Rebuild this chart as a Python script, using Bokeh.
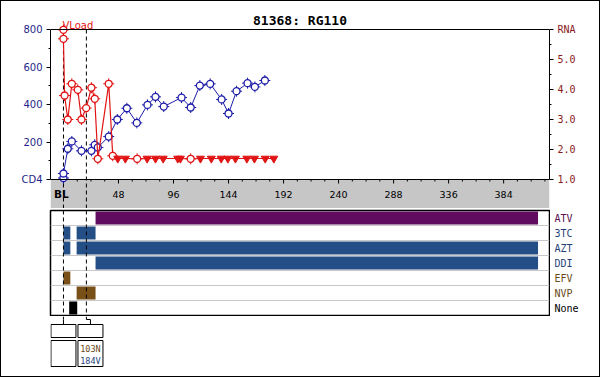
import math
from bokeh.plotting import figure
from bokeh.models import (Range1d, LinearAxis, FixedTicker, Span, Grid, ColumnDataSource,
                          BoxAnnotation)
from bokeh.layouts import column, row
from bokeh.embed import file_html
from bokeh.resources import INLINE
from bokeh.core.properties import value

# ---------------- data ----------------
title_text = "81368: RG110"
x_start, x_end = -11.3, 424.0

x_ticks = [0, 48, 96, 144, 192, 240, 288, 336, 384]
x_tick_labels = ["BL", "48", "96", "144", "192", "240", "288", "336", "384"]
x_minor = [12, 24, 36, 60, 72, 84, 108, 120, 132, 156, 168, 180, 204, 216, 228,
           252, 264, 276, 300, 312, 324, 348, 360, 372, 396, 408, 420]

cd4_ticks = [0, 200, 400, 600, 800]
cd4_tick_labels = ["CD4", "200", "400", "600", "800"]
cd4_minor = [100, 300, 500, 700]
rna_ticks = [1, 2, 3, 4, 5, 6]
rna_tick_labels = ["1.0", "2.0", "3.0", "4.0", "5.0", "RNA"]
rna_minor = [1.5, 2.5, 3.5, 4.5, 5.5]

cd4_weeks = [0, 0, 3.8, 7.3, 15.7, 24.4, 27.3, 30, 39.5, 47, 55.3, 64, 73.3, 80.3,
             87.5, 103, 111, 119, 128, 138, 144, 151, 160.6, 167, 175.7]
cd4_vals = [8, 32, 164, 203, 153, 153, 185, 171, 229, 320, 380, 302, 398, 441,
            389, 437, 384, 501, 510, 427, 352, 471, 514, 494, 528]

vl_weeks = [0, 0, 1, 3.8, 7.3, 12.5, 15.7, 19.8, 24.4, 27.3, 30, 39.5, 43,
            47.4, 54, 64.3, 73, 80.3, 87, 99.7, 102, 111, 119.5, 129, 137.6,
            143.4, 150, 160, 166.6, 176, 183.5]
vl_log = [5.99, 5.69, 3.80, 3.00, 4.19, 3.99, 3.00, 3.38, 4.06, 3.69, 1.69, 4.19, 1.79,
          1.70, 1.70, 1.69, 1.70, 1.70, 1.70, 1.70, 1.70, 1.69, 1.70, 1.70, 1.70,
          1.70, 1.70, 1.70, 1.70, 1.70, 1.70]
vl_below = [False] * 13 + [True, True, False, True, True, True, True, True, False,
                           True, True, True, True, True, True, True, True, True]

drugs = ["ATV", "3TC", "AZT", "DDI", "EFV", "NVP", "None"]
drug_class = ["PI", "NRTI", "NRTI", "NRTI", "NNRTI", "NNRTI", "None"]
class_colors = {"PI": "#600a60", "NRTI": "#234f86", "NNRTI": "#7a5019", "None": "#000000"}
label_colors = {"PI": "#5a1050", "NRTI": "#1f3f78", "NNRTI": "#6b4a1a", "None": "#000000"}

bar_drug = ["ATV", "3TC", "3TC", "AZT", "AZT", "DDI", "EFV", "NVP", "None"]
bar_start = [28, 0, 11.5, 0, 11.5, 28, 0, 11.5, 5]
bar_end = [414, 6, 28, 6, 414, 414, 6, 28, 12]

geno_weeks = [0, 20]
mut_sample = [1, 1]
mut_text = ["103N", "184V"]
mut_class = ["NNRTI", "NRTI"]

# ---------------- styling / layout constants (pixels) ----------------
BLUE = "#1c1ca8"
RED = "#e01414"
AX_BLUE = "#1f1f8c"
AX_RED = "#8b1a1a"
BAND = "#c6c6c6"
FW, LB, RB = 598, 49, 50
COMMON = dict(output_backend="svg", toolbar_location=None)

# top figure: canvas rows 1..208, plot box rows 29..179, grey band below to 208
P1_H, P1_TOP_BORDER = 207, 11
frame_top, plot_top, plot_bot, frame_bot = 12, 29, 179, 208
cd4_max, rna_min, rna_max = cd4_ticks[-1], rna_ticks[0], rna_ticks[-1]
cd4_pp = cd4_max / (plot_bot - plot_top)
rna_pp = (rna_max - rna_min) / (plot_bot - plot_top)
cd4_range = Range1d(-(frame_bot - plot_bot) * cd4_pp, cd4_max + (plot_top - frame_top) * cd4_pp)
rna_range = Range1d(rna_min - (frame_bot - plot_bot) * rna_pp,
                    rna_max + (plot_top - frame_top) * rna_pp)

# ---------------- top chart ----------------
p1 = figure(width=FW, height=P1_H, x_range=Range1d(x_start, x_end), y_range=cd4_range,
            x_axis_location=None, min_border_left=LB, min_border_right=RB,
            min_border_top=P1_TOP_BORDER, min_border_bottom=0, **COMMON)
p1.extra_y_ranges = {"rna": rna_range}
p1.xgrid.visible = False
p1.ygrid.visible = False
p1.outline_line_color = None

# grey time band + frame lines
p1.add_layout(BoxAnnotation(top=0, fill_color=BAND, fill_alpha=1, line_color=None,
                            level="underlay"))
p1.add_layout(Span(location=cd4_max, dimension="width", line_color="black", line_width=1))
p1.add_layout(Span(location=0, dimension="width", line_color="black", line_width=1))

ya = p1.yaxis[0]
ya.bounds = (0, cd4_max)
ya.ticker = FixedTicker(ticks=cd4_ticks, minor_ticks=cd4_minor)
ya.major_label_overrides = {t: l for t, l in zip(cd4_ticks, cd4_tick_labels)}
ya.major_label_text_font = "DejaVu Sans"
ya.major_label_text_font_size = "10px"
ya.major_label_text_color = AX_BLUE
ya.axis_line_color = "black"
ya.major_tick_line_color = "black"
ya.minor_tick_line_color = "black"
ya.major_tick_out = 4
ya.major_tick_in = 0
ya.minor_tick_out = 2
ya.minor_tick_in = 0
ya.major_label_standoff = 4

ra = LinearAxis(y_range_name="rna", bounds=(rna_min, rna_max),
                ticker=FixedTicker(ticks=rna_ticks, minor_ticks=rna_minor))
ra.major_label_overrides = {t: l for t, l in zip(rna_ticks, rna_tick_labels)}
ra.major_label_text_font = "DejaVu Sans Mono"
ra.major_label_text_font_size = "10px"
ra.major_label_text_color = AX_RED
ra.axis_line_color = "black"
ra.major_tick_line_color = "black"
ra.minor_tick_line_color = "black"
ra.major_tick_out = 4
ra.major_tick_in = 0
ra.minor_tick_out = 2
ra.minor_tick_in = 0
ra.major_label_standoff = 4
p1.add_layout(ra, "right")

# x ticks and labels inside the grey band
p1.ray(x=x_ticks, y=[0] * len(x_ticks), length=4, length_units="screen",
       angle=-math.pi / 2, line_color="black", line_width=1)
p1.ray(x=x_minor, y=[0] * len(x_minor), length=2, length_units="screen",
       angle=-math.pi / 2, line_color="black", line_width=1)
p1.text(x=x_ticks[1:], y=[0] * (len(x_ticks) - 1), text=x_tick_labels[1:], y_offset=15,
        text_color="black", text_font=value("DejaVu Sans"), text_font_size=value("9.5px"),
        text_align="center", text_baseline="middle")
p1.text(x=x_ticks[:1], y=[0], text=x_tick_labels[:1], y_offset=14, x_offset=-2,
        text_color="black", text_font=value("DejaVu Sans"), text_font_style="bold",
        text_font_size=value("10.5px"), text_align="center", text_baseline="middle")

# genotype sample lines
p1.segment(x0=geno_weeks, x1=geno_weeks, y0=[cd4_max] * len(geno_weeks),
           y1=[cd4_range.start] * len(geno_weeks), line_color="black", line_width=1,
           line_dash="4 3")

# title and VLoad caption
p1.text(x=[(x_start + x_end) / 2], y=[cd4_max], text=[title_text], y_offset=-9,
        text_color="black", text_font=value("DejaVu Sans Mono"), text_font_style="bold",
        text_font_size=value("13px"), text_align="center", text_baseline="middle")
p1.text(x=[geno_weeks[0]], y=[cd4_max], text=["VLoad"], y_offset=-4, x_offset=-1,
        text_color=RED, text_font=value("DejaVu Sans"), text_font_size=value("10px"),
        text_align="left", text_baseline="alphabetic")

cd4_src = ColumnDataSource(dict(x=cd4_weeks, y=cd4_vals))
p1.line("x", "y", source=cd4_src, line_color=BLUE, line_width=1)
p1.scatter("x", "y", source=cd4_src, marker="cross", size=11, line_color=BLUE, line_width=1)
p1.scatter("x", "y", source=cd4_src, marker="circle", size=7, line_color=BLUE,
           fill_color="white", line_width=1.3)

vl_src = ColumnDataSource(dict(x=vl_weeks, y=vl_log))
det = ColumnDataSource(dict(x=[w for w, b in zip(vl_weeks, vl_below) if not b],
                            y=[v for v, b in zip(vl_log, vl_below) if not b]))
bel = ColumnDataSource(dict(x=[w for w, b in zip(vl_weeks, vl_below) if b],
                            y=[v for v, b in zip(vl_log, vl_below) if b]))
p1.line("x", "y", source=vl_src, y_range_name="rna", line_color=RED, line_width=1.2)
p1.scatter("x", "y", source=det, y_range_name="rna", marker="cross", size=11,
           line_color=RED, line_width=1)
p1.scatter("x", "y", source=det, y_range_name="rna", marker="circle", size=7,
           line_color=RED, fill_color="white", line_width=1.3)
p1.scatter("x", "y", source=bel, y_range_name="rna", marker="inverted_triangle", size=8,
           line_color=RED, fill_color=RED)

# ---------------- treatment panel ----------------
p2 = figure(width=549, height=108, x_range=p1.x_range, y_range=Range1d(len(drugs), 0),
            x_axis_type=None, y_axis_type=None, min_border_left=LB, min_border_right=1,
            min_border_top=2, min_border_bottom=1, **COMMON)
p2.outline_line_color = "black"
p2.outline_line_width = 1.5
p2.add_layout(Grid(dimension=1, ticker=FixedTicker(ticks=list(range(1, len(drugs)))),
                   grid_line_color="#c8c8c8", grid_line_width=1))
for w in geno_weeks:
    p2.add_layout(Span(location=w, dimension="height", line_color="black",
                       line_width=1, line_dash="4 3"))
bar_src = ColumnDataSource(dict(
    y=[drugs.index(d) + 0.5 for d in bar_drug],
    left=bar_start, right=bar_end,
    color=[class_colors[drug_class[drugs.index(d)]] for d in bar_drug]))
p2.hbar(y="y", left="left", right="right", height=0.87, source=bar_src,
        fill_color="color", line_color=None)

pl = figure(width=FW - 549, height=108, x_range=Range1d(0, FW - 549), y_range=p2.y_range,
            x_axis_type=None, y_axis_type=None, min_border_left=0, min_border_right=0,
            min_border_top=2, min_border_bottom=1, **COMMON)
pl.outline_line_color = None
pl.text(x=[4] * len(drugs), y=[i + 0.5 for i in range(len(drugs))], text=drugs,
        text_color=[label_colors[c] for c in drug_class],
        text_font=value("DejaVu Sans Mono"), text_font_size=value("10px"),
        text_align="left", text_baseline="middle")

# ---------------- genotype boxes ----------------
p3 = figure(width=FW, height=60, x_range=p1.x_range, y_range=Range1d(60, 0),
            x_axis_type=None, y_axis_type=None, min_border_left=LB, min_border_right=RB,
            min_border_top=0, min_border_bottom=0, **COMMON)
p3.outline_line_color = None
px_per_unit = (FW - LB - RB) / (x_end - x_start)
box_w, box_gap = 25, 2
box_x = []
for w in geno_weeks:
    bx = w if not box_x else max(w, box_x[-1] + (box_w + box_gap) / px_per_unit)
    box_x.append(bx)

for w, bx in zip(geno_weeks, box_x):
    p3.line([w, w, bx, bx], [0, 3, 3, 8], line_color="black", line_width=1)
p3.rect(x=box_x, y=[14.5] * len(box_x), width=box_w, height=13, width_units="screen",
        fill_color="white", line_color="black", line_width=1)
p3.rect(x=box_x, y=[37] * len(box_x), width=box_w, height=26, width_units="screen",
        fill_color="white", line_color="black", line_width=1)
mut_src = ColumnDataSource(dict(
    x=[box_x[s] for s in mut_sample],
    y=[32 + 12 * mut_sample[:k].count(s) for k, s in enumerate(mut_sample)],
    text=mut_text,
    color=[label_colors[c] for c in mut_class]))
p3.text("x", "y", text="text", source=mut_src, text_color="color",
        text_font=value("DejaVu Sans Mono"), text_font_size=value("8.5px"),
        text_align="center", text_baseline="middle")

layout = column(p1, row(p2, pl, spacing=0), p3, spacing=0,
                styles={"border": "1px solid black"})
open("out.html", "w").write(file_html(layout, INLINE))
